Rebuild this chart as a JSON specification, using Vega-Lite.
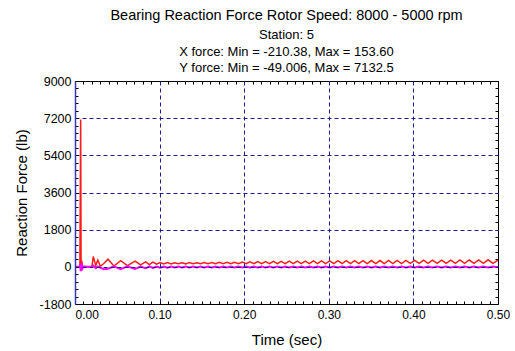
{
  "$schema": "https://vega.github.io/schema/vega-lite/v6.json",
  "width": 423,
  "height": 223,
  "autosize": "none",
  "padding": {"left": 75, "top": 81, "right": 17, "bottom": 47},
  "background": "white",
  "config": {
    "view": {"stroke": null},
    "font": "Liberation Sans"
  },
  "title": {
    "text": "Bearing Reaction Force Rotor Speed: 8000 - 5000 rpm",
    "subtitle": ["Station: 5", "X force: Min = -210.38, Max = 153.60", "Y force: Min = -49.006, Max = 7132.5"],
    "font": "Liberation Sans",
    "subtitleFont": "Liberation Sans",
    "fontSize": 14.5,
    "subtitleFontSize": 13,
    "fontWeight": "normal",
    "color": "#000000",
    "subtitleColor": "#000000",
    "subtitleLineHeight": 16.5,
    "subtitlePadding": 6,
    "anchor": "middle",
    "frame": "group",
    "offset": -1
  },
  "data": {
    "values": [
      {"t": 0, "fx": 0, "fy": 0},
      {"t": 0.0058, "fx": 0, "fy": 0},
      {"t": 0.0063, "fx": 153.6, "fy": 3960},
      {"t": 0.0067, "fx": -210.38, "fy": 7132.5},
      {"t": 0.0072, "fx": 40, "fy": 20},
      {"t": 0.008, "fx": 90, "fy": 300},
      {"t": 0.0088, "fx": -80, "fy": -49.006},
      {"t": 0.01, "fx": 10, "fy": 30},
      {"t": 0.015, "fx": 0, "fy": 0},
      {"t": 0.02, "fx": 0, "fy": 10},
      {"t": 0.0216, "fx": 60, "fy": 500},
      {"t": 0.0245, "fx": -60, "fy": 60},
      {"t": 0.027, "fx": 20, "fy": 330},
      {"t": 0.03, "fx": -40, "fy": 30},
      {"t": 0.034, "fx": -120, "fy": 160},
      {"t": 0.039, "fx": -90, "fy": 370},
      {"t": 0.046, "fx": 30, "fy": 40},
      {"t": 0.054, "fx": -110, "fy": 300},
      {"t": 0.062, "fx": 20, "fy": 60},
      {"t": 0.071, "fx": -100, "fy": 280},
      {"t": 0.0775, "fx": 15, "fy": 90},
      {"t": 0.0836, "fx": -70, "fy": 240},
      {"t": 0.0879, "fx": 20, "fy": 110},
      {"t": 0.0921, "fx": -55, "fy": 225},
      {"t": 0.0964, "fx": 15, "fy": 125},
      {"t": 0.1006, "fx": -45, "fy": 210},
      {"t": 0.1049, "fx": 10, "fy": 135},
      {"t": 0.1092, "fx": -40, "fy": 205},
      {"t": 0.1135, "fx": 10, "fy": 140},
      {"t": 0.1178, "fx": -35, "fy": 200},
      {"t": 0.1222, "fx": 10, "fy": 145},
      {"t": 0.1265, "fx": -35, "fy": 200},
      {"t": 0.1309, "fx": 10, "fy": 145},
      {"t": 0.1352, "fx": -35, "fy": 205},
      {"t": 0.1396, "fx": 10, "fy": 150},
      {"t": 0.144, "fx": -35, "fy": 200},
      {"t": 0.1484, "fx": 10, "fy": 150},
      {"t": 0.1528, "fx": -35, "fy": 210},
      {"t": 0.1573, "fx": 10, "fy": 150},
      {"t": 0.1617, "fx": -35, "fy": 205},
      {"t": 0.1662, "fx": 10, "fy": 150},
      {"t": 0.1706, "fx": -35, "fy": 215},
      {"t": 0.1751, "fx": 10, "fy": 150},
      {"t": 0.1796, "fx": -35, "fy": 220},
      {"t": 0.1841, "fx": 10, "fy": 150},
      {"t": 0.1886, "fx": -35, "fy": 225},
      {"t": 0.1932, "fx": 10, "fy": 150},
      {"t": 0.1977, "fx": -35, "fy": 235},
      {"t": 0.2023, "fx": 10, "fy": 150},
      {"t": 0.2068, "fx": -30, "fy": 240},
      {"t": 0.2114, "fx": 10, "fy": 150},
      {"t": 0.216, "fx": -30, "fy": 250},
      {"t": 0.2206, "fx": 10, "fy": 150},
      {"t": 0.2252, "fx": -30, "fy": 255},
      {"t": 0.2299, "fx": 10, "fy": 150},
      {"t": 0.2345, "fx": -30, "fy": 265},
      {"t": 0.2392, "fx": 10, "fy": 155},
      {"t": 0.2438, "fx": -30, "fy": 270},
      {"t": 0.2485, "fx": 10, "fy": 155},
      {"t": 0.2532, "fx": -30, "fy": 275},
      {"t": 0.258, "fx": 10, "fy": 155},
      {"t": 0.2627, "fx": -30, "fy": 280},
      {"t": 0.2675, "fx": 10, "fy": 155},
      {"t": 0.2722, "fx": -30, "fy": 280},
      {"t": 0.277, "fx": 10, "fy": 155},
      {"t": 0.2818, "fx": -30, "fy": 285},
      {"t": 0.2866, "fx": 10, "fy": 160},
      {"t": 0.2914, "fx": -30, "fy": 290},
      {"t": 0.2963, "fx": 10, "fy": 160},
      {"t": 0.3011, "fx": -30, "fy": 290},
      {"t": 0.306, "fx": 10, "fy": 160},
      {"t": 0.3108, "fx": -30, "fy": 295},
      {"t": 0.3157, "fx": 10, "fy": 160},
      {"t": 0.3206, "fx": -30, "fy": 295},
      {"t": 0.3256, "fx": 10, "fy": 160},
      {"t": 0.3305, "fx": -30, "fy": 300},
      {"t": 0.3355, "fx": 10, "fy": 160},
      {"t": 0.3404, "fx": -30, "fy": 300},
      {"t": 0.3454, "fx": 10, "fy": 160},
      {"t": 0.3504, "fx": -30, "fy": 305},
      {"t": 0.3555, "fx": 10, "fy": 160},
      {"t": 0.3605, "fx": -30, "fy": 305},
      {"t": 0.3656, "fx": 10, "fy": 160},
      {"t": 0.3706, "fx": -30, "fy": 310},
      {"t": 0.3757, "fx": 10, "fy": 160},
      {"t": 0.3808, "fx": -30, "fy": 310},
      {"t": 0.386, "fx": 10, "fy": 160},
      {"t": 0.3911, "fx": -30, "fy": 315},
      {"t": 0.3963, "fx": 10, "fy": 165},
      {"t": 0.4015, "fx": -30, "fy": 315},
      {"t": 0.4068, "fx": 10, "fy": 165},
      {"t": 0.412, "fx": -30, "fy": 320},
      {"t": 0.4173, "fx": 10, "fy": 165},
      {"t": 0.4226, "fx": -30, "fy": 320},
      {"t": 0.428, "fx": 10, "fy": 165},
      {"t": 0.4333, "fx": -30, "fy": 325},
      {"t": 0.4387, "fx": 10, "fy": 165},
      {"t": 0.4441, "fx": -30, "fy": 325},
      {"t": 0.4496, "fx": 10, "fy": 165},
      {"t": 0.455, "fx": -30, "fy": 330},
      {"t": 0.4605, "fx": 10, "fy": 165},
      {"t": 0.466, "fx": -30, "fy": 330},
      {"t": 0.4716, "fx": 10, "fy": 165},
      {"t": 0.4771, "fx": -30, "fy": 335},
      {"t": 0.4827, "fx": 10, "fy": 165},
      {"t": 0.4883, "fx": -30, "fy": 340},
      {"t": 0.494, "fx": 10, "fy": 165},
      {"t": 0.5, "fx": -25, "fy": 330}
    ]
  },
  "layer": [
    {
      "mark": {"type": "line", "color": "#ff1a1a", "strokeWidth": 1.5, "clip": true},
      "encoding": {
        "x": {
          "field": "t",
          "type": "quantitative",
          "scale": {"domain": [0, 0.5], "nice": false, "zero": false},
          "axis": {
            "orient": "bottom",
            "values": [0, 0.01, 0.02, 0.03, 0.04, 0.05, 0.06, 0.07, 0.08, 0.09, 0.1, 0.11, 0.12, 0.13, 0.14, 0.15, 0.16, 0.17, 0.18, 0.19, 0.2, 0.21, 0.22, 0.23, 0.24, 0.25, 0.26, 0.27, 0.28, 0.29, 0.3, 0.31, 0.32, 0.33, 0.34, 0.35, 0.36, 0.37, 0.38, 0.39, 0.4, 0.41, 0.42, 0.43, 0.44, 0.45, 0.46, 0.47, 0.48, 0.49, 0.5],
            "labelExpr": "abs(datum.value * 10 - round(datum.value * 10)) < 0.001 ? format(datum.value, '.2f') : ''",
            "labelAlign": {"condition": {"test": "datum.value == 0", "value": "left"}, "value": "center"},
            "labelFlush": false,
            "labelOverlap": false,
            "labelFont": "Liberation Sans",
            "labelFontSize": 12,
            "labelColor": "#000000",
            "labelPadding": 8,
            "tickSize": -3,
            "tickColor": "#000000",
            "domainColor": "#000000",
            "grid": true,
            "gridColor": "#1c1c8c",
            "gridDash": [4, 3],
            "gridOpacity": {"condition": {"test": "abs(datum.value * 10 - round(datum.value * 10)) < 0.001 && datum.value > 0.001 && datum.value < 0.499", "value": 1}, "value": 0},
            "title": "Time (sec)",
            "titleFont": "Liberation Sans",
            "titleFontSize": 15,
            "titleFontWeight": "normal",
            "titleColor": "#000000",
            "titlePadding": 12,
            "zindex": 1
          }
        },
        "y": {
          "field": "fy",
          "type": "quantitative",
          "scale": {"domain": [-1800, 9000], "nice": false, "zero": false},
          "axis": {
            "orient": "left",
            "values": [-1800, -1440, -1080, -720, -360, 0, 360, 720, 1080, 1440, 1800, 2160, 2520, 2880, 3240, 3600, 3960, 4320, 4680, 5040, 5400, 5760, 6120, 6480, 6840, 7200, 7560, 7920, 8280, 8640, 9000],
            "labelExpr": "datum.value % 1800 == 0 ? '' + datum.value : ''",
            "labelFlush": false,
            "labelOverlap": false,
            "labelFont": "Liberation Sans",
            "labelFontSize": 12.5,
            "labelColor": "#000000",
            "labelPadding": 7,
            "tickSize": -3,
            "tickColor": "#000000",
            "domainColor": "#3535b8",
            "domainWidth": 1.5,
            "grid": true,
            "gridColor": "#1c1c8c",
            "gridDash": [4, 3],
            "gridOpacity": {"condition": {"test": "datum.value % 1800 == 0 && datum.value > -1800 && datum.value < 9000", "value": 1}, "value": 0},
            "title": "Reaction Force (lb)",
            "titleFont": "Liberation Sans",
            "titleFontSize": 15,
            "titleFontWeight": "normal",
            "titleColor": "#000000",
            "titlePadding": 10,
            "zindex": 1
          }
        }
      }
    },
    {
      "mark": {"type": "line", "color": "#ff00ff", "strokeWidth": 2, "clip": true},
      "encoding": {
        "x": {
          "field": "t",
          "type": "quantitative",
          "axis": {
            "orient": "top",
            "values": [0, 0.01, 0.02, 0.03, 0.04, 0.05, 0.06, 0.07, 0.08, 0.09, 0.1, 0.11, 0.12, 0.13, 0.14, 0.15, 0.16, 0.17, 0.18, 0.19, 0.2, 0.21, 0.22, 0.23, 0.24, 0.25, 0.26, 0.27, 0.28, 0.29, 0.3, 0.31, 0.32, 0.33, 0.34, 0.35, 0.36, 0.37, 0.38, 0.39, 0.4, 0.41, 0.42, 0.43, 0.44, 0.45, 0.46, 0.47, 0.48, 0.49, 0.5],
            "labels": false,
            "tickSize": -3,
            "tickColor": "#000000",
            "domainColor": "#000000",
            "grid": false,
            "title": null
          }
        },
        "y": {
          "field": "fx",
          "type": "quantitative",
          "axis": {
            "orient": "right",
            "values": [-1800, -1440, -1080, -720, -360, 0, 360, 720, 1080, 1440, 1800, 2160, 2520, 2880, 3240, 3600, 3960, 4320, 4680, 5040, 5400, 5760, 6120, 6480, 6840, 7200, 7560, 7920, 8280, 8640, 9000],
            "labels": false,
            "tickSize": -3,
            "tickColor": "#000000",
            "domainColor": "#000000",
            "grid": false,
            "title": null
          }
        }
      }
    }
  ],
  "resolve": {"axis": {"x": "independent", "y": "independent"}}
}
